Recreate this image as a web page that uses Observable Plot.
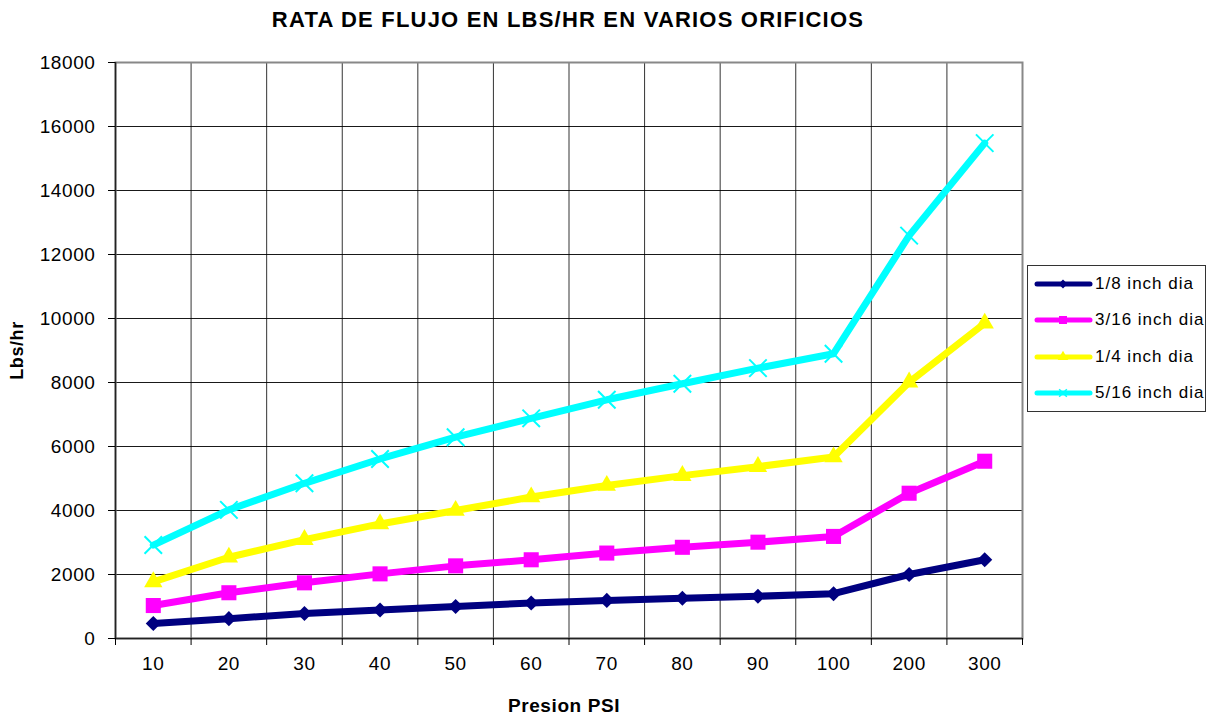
<!DOCTYPE html>
<html>
<head>
<meta charset="utf-8">
<script src="https://cdn.jsdelivr.net/npm/d3@7"></script>
<script src="https://cdn.jsdelivr.net/npm/@observablehq/plot@0.6"></script>
<style>
  body { margin: 0; background: #fff; font-family: "Liberation Sans", Arial, sans-serif; }
  #wrap { position: relative; width: 1207px; height: 717px; }
  #title { position: absolute; left: 0; top: 7px; width: 1136px; text-align: center;
           font-weight: bold; font-size: 22px; color: #000; letter-spacing: 1.2px; }
  #chart { position: absolute; left: 0; top: 40px; }
  #chart svg text { letter-spacing: 0.6px; }
  #legend { position: absolute; left: 1027px; top: 265px; width: 177px; height: 145px;
            border: 1px solid #333; background: #fff; }
  .item { position: absolute; left: 5px; height: 20px; display: flex; align-items: center; }
  .item span { font-size: 17px; letter-spacing: 1px; margin-left: 2px; color: #000; }
</style>
</head>
<body>
<div id="wrap">
  <div id="title">RATA DE FLUJO EN LBS/HR EN VARIOS ORIFICIOS</div>
  <div id="chart"></div>
  <div id="legend"></div>
</div>
<script>
const categories = ["10","20","30","40","50","60","70","80","90","100","200","300"];
const seriesNames = ["1/8 inch dia","3/16 inch dia","1/4 inch dia","5/16 inch dia"];
const seriesColors = ["#000080","#FF00FF","#FFFF00","#00FFFF"];
const seriesSymbols = ["diamond2","square","triangle","times"];
const s1 = [470, 620, 780, 890, 1000, 1110, 1190, 1260, 1320, 1400, 2000, 2460];
const s2 = [1030, 1430, 1740, 2020, 2270, 2460, 2670, 2850, 3010, 3190, 4540, 5540];
const s3 = [1770, 2540, 3090, 3580, 4000, 4420, 4780, 5090, 5370, 5670, 8010, 9850];
const s4 = [2920, 4020, 4850, 5610, 6290, 6880, 7460, 7960, 8450, 8900, 12590, 15480];
const yTicks = [0,2000,4000,6000,8000,10000,12000,14000,16000,18000];

const allSeries = [s1, s2, s3, s4];
const data = allSeries.flatMap((vals, si) => vals.map((v, i) => ({i, v, s: seriesNames[si]})));
const boundaries = d3.range(categories.length + 1).map(k => k - 0.5);
const centers = d3.range(categories.length);

const marks = [
  Plot.ruleY(yTicks.slice(1), {y: d => d, stroke: "#000", strokeWidth: 1, strokeOpacity: 0.9}),
  Plot.ruleX(boundaries.slice(1, -1), {x: d => d, stroke: "#000", strokeWidth: 1, strokeOpacity: 0.8}),
  Plot.frame({stroke: "#888", strokeWidth: 2}),
  Plot.ruleX([boundaries[0]], {x: d => d, stroke: "#222", strokeWidth: 1.5}),
  Plot.ruleY([0], {stroke: "#222", strokeWidth: 1.5}),
  Plot.axisY({ticks: yTicks, tickSize: 7, tickPadding: 13, fontSize: 19, label: null, tickFormat: d => String(d)}),
  Plot.axisX({ticks: boundaries, tickSize: 7, tickFormat: () => "", label: null}),
  Plot.axisX({ticks: centers, tickSize: 0, tickPadding: 18, fontSize: 19, tickFormat: i => categories[i], label: null}),
  Plot.text(["Lbs/hr"], {frameAnchor: "left", textAnchor: "middle", dx: -98, rotate: -90, fontWeight: "bold", fontSize: 18}),
  Plot.text(["Presion PSI"], {frameAnchor: "bottom", dx: -5, dy: 73, fontWeight: "bold", fontSize: 19})
];
allSeries.forEach((vals, si) => {
  const d = data.filter(r => r.s === seriesNames[si]);
  marks.push(Plot.line(d, {x: "i", y: "v", stroke: seriesColors[si], strokeWidth: 7}));
});
allSeries.forEach((vals, si) => {
  const d = data.filter(r => r.s === seriesNames[si]);
  const sym = seriesSymbols[si];
  if (sym === "times") {
    marks.push(Plot.dot(d, {x: "i", y: "v", symbol: sym, r: 8, stroke: seriesColors[si], strokeWidth: 2}));
  } else {
    const r = sym === "diamond2" ? 6.8 : sym === "square" ? 8.5 : 6.8;
    marks.push(Plot.dot(d, {x: "i", y: "v", symbol: sym, r, fill: seriesColors[si], stroke: "none"}));
  }
});

const chart = Plot.plot({
  width: 1207,
  height: 677,
  marginLeft: 115,
  marginRight: 185,
  marginTop: 22,
  marginBottom: 79,
  style: {fontFamily: "Liberation Sans, Arial, sans-serif", color: "#000", background: "#fff"},
  x: {type: "linear", domain: [-0.5, categories.length - 0.5]},
  y: {domain: [0, 18000]},
  marks
});
document.getElementById("chart").appendChild(chart);

// legend
const legend = document.getElementById("legend");
const rowCenters = [18, 54, 91, 127];
seriesNames.forEach((name, si) => {
  const item = document.createElement("div");
  item.className = "item";
  item.style.top = (rowCenters[si] - 10) + "px";
  const sw = d3.create("svg").attr("width", 60).attr("height", 20);
  sw.append("line").attr("x1", 4).attr("x2", 57).attr("y1", 10).attr("y2", 10)
    .attr("stroke", seriesColors[si]).attr("stroke-width", 5).attr("stroke-linecap", "round");
  const sym = {diamond2: d3.symbolDiamond2, square: d3.symbolSquare, triangle: d3.symbolTriangle, times: d3.symbolTimes}[seriesSymbols[si]];
  const size = seriesSymbols[si] === "square" ? 64 : seriesSymbols[si] === "times" ? 40 : 50;
  const p = sw.append("path").attr("d", d3.symbol(sym, size)()).attr("transform", "translate(30,10)");
  if (seriesSymbols[si] === "times") p.attr("fill", "none").attr("stroke", seriesColors[si]).attr("stroke-width", 1.5);
  else p.attr("fill", seriesColors[si]);
  item.appendChild(sw.node());
  const label = document.createElement("span");
  label.textContent = name;
  item.appendChild(label);
  legend.appendChild(item);
});
</script>
</body>
</html>
